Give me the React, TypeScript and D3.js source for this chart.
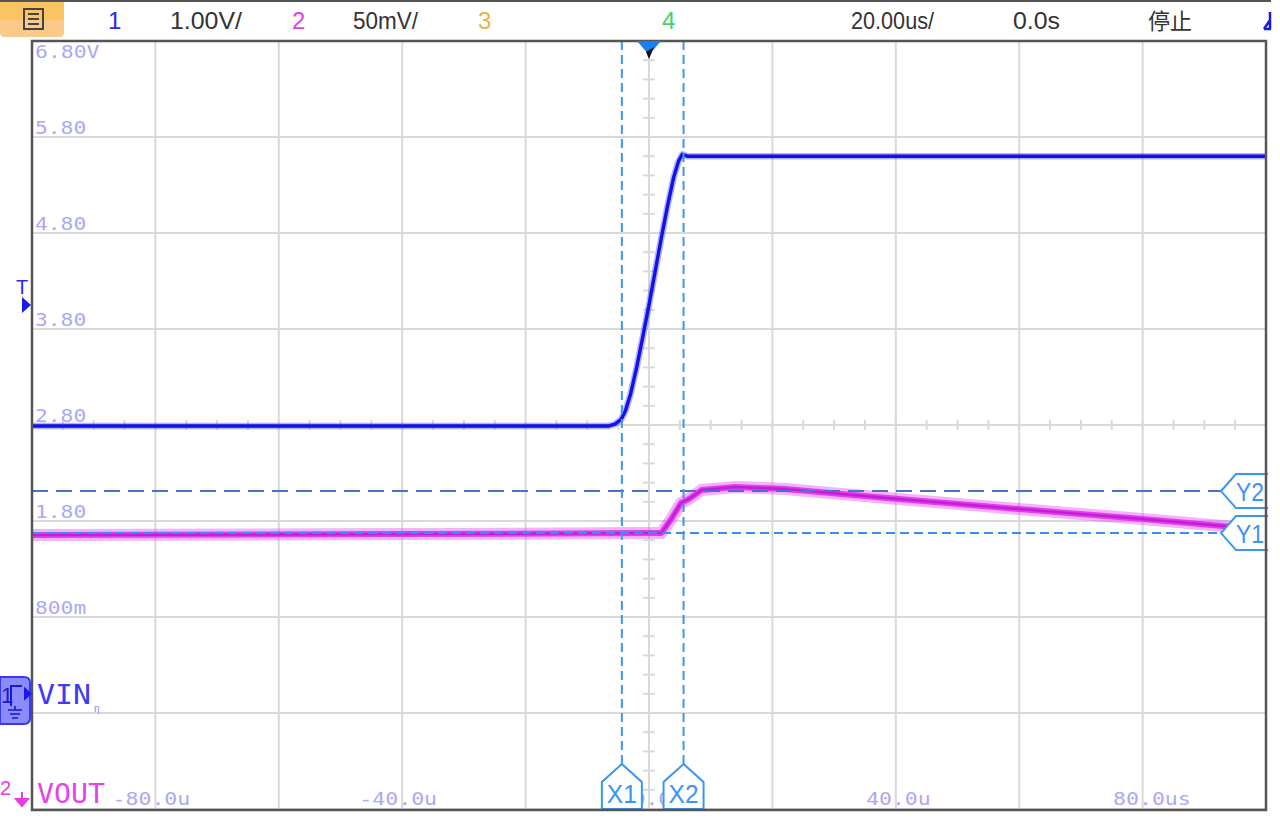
import React from 'react';
import * as d3 from 'd3';

// horizontal: 20us/div, trigger at 0
const timeTicks = [-80, -40, 0, 40, 80];
const timeLabels = ['-80.0u', '-40.0u', '0.0u', '40.0u', '80.0us'];

// ch1 scale labels, 1.00V/div
const voltTicks = [6.8, 5.8, 4.8, 3.8, 2.8, 1.8, 0.8];
const voltLabels = ['6.80V', '5.80', '4.80', '3.80', '2.80', '1.80', '800m'];

// CH1 (VIN) in volts
const ch1Time = [-100, -6.5, -5.5, -4.5, -3.8, -3.0, -2.0, -1.0, 0, 1, 2, 3, 4, 4.8, 5.4, 6.2, 100];
const ch1Volt = [2.79, 2.79, 2.81, 2.86, 2.95, 3.12, 3.4, 3.72, 4.05, 4.4, 4.75, 5.08, 5.38, 5.55, 5.62, 5.6, 5.6];

// CH2 (VOUT) in mV, relative to screen centre, 50mV/div
const ch2Time = [-100, -40, 0, 2.0, 3.5, 5.2, 6.5, 8.5, 14, 22, 40, 60, 80, 93, 100];
const ch2mV = [-57.3, -56.8, -56.3, -56.3, -49.5, -40.6, -38.5, -33.9, -32.3, -33.3, -38.4, -43.8, -49.0, -52.6, -54.7];

// cursors
const cursorX = [{ name: 'X1', t: -4.4 }, { name: 'X2', t: 5.6 }];
const cursorY = [
  { name: 'Y2', mV: -34.4, color: '#4a72c4', dash: '16,8' },
  { name: 'Y1', mV: -56.3, color: '#3a8ef2', dash: '9,5' },
];

const trigLevel = 4.05;

const L = 32, R = 1266, T = 41, B = 809;
const mono = '"DejaVu Sans Mono", monospace';
const sans = '"Liberation Sans Narrow", "Liberation Sans", Arial, sans-serif';

function App() {
  const x = d3.scaleLinear().domain([-100, 100]).range([L, R]);
  const yV = d3.scaleLinear().domain([-1.2, 6.8]).range([B, T]);
  const yMv = d3.scaleLinear().domain([-200, 200]).range([B, T]);
  const cx = x(0), cy = yV(2.8);
  const divX = d3.range(-100, 101, 20);
  const divY = d3.range(-1.2, 6.81, 1);

  const line1 = d3.line<number>().x((_, i) => x(ch1Time[i])).y((v) => yV(v))(ch1Volt) || '';
  const line2 = d3.line<number>().x((_, i) => x(ch2Time[i])).y((v) => yMv(v))(ch2mV) || '';

  const minorX = d3.range(-100, 100.01, 5);
  const minorY = d3.range(-1.2, 6.81, 0.2);

  return (
    <svg width={1280} height={826} style={{ position: 'absolute', left: 0, top: 0, display: 'block', background: '#fff' }}>
      <defs>
        <clipPath id="plot">
          <rect x={L} y={T} width={R - L} height={B - T} />
        </clipPath>
      </defs>
      {/* top bar */}
      <line x1={0} x2={1271} y1={1} y2={1} stroke="#555" strokeWidth={2} />
      <path d="M0,2 H64 V32 Q64,37 59,37 H5 Q0,37 0,32 Z" fill="#fbc98a" />
      <path d="M0,2 H64 V20 H0 Z" fill="#f9c461" />
      <rect x={24} y={9} width={19} height={20} fill="none" stroke="#444" strokeWidth={2} />
      {[14, 19, 24].map((yy) => (
        <line key={yy} x1={28} x2={39} y1={yy} y2={yy} stroke="#444" strokeWidth={2} />
      ))}
      <g fontFamily={sans} fontSize={24}>
        <text x={108} y={29} fill="#2a2ae8">1</text>
        <text x={170} y={29} fill="#333" textLength={72} lengthAdjust="spacingAndGlyphs">1.00V/</text>
        <text x={292} y={29} fill="#e43ce8">2</text>
        <text x={353} y={29} fill="#333" textLength={65} lengthAdjust="spacingAndGlyphs">50mV/</text>
        <text x={478} y={29} fill="#e3b24a">3</text>
        <text x={662} y={29} fill="#3dd46e">4</text>
        <text x={851} y={29} fill="#333" textLength={83} lengthAdjust="spacingAndGlyphs">20.00us/</text>
        <text x={1013} y={29} fill="#333" textLength={47} lengthAdjust="spacingAndGlyphs">0.0s</text>
        <text x={1148} y={29} fill="#333" fontFamily='"Noto Sans CJK SC", sans-serif' fontSize={22}>停止</text>
      </g>
      <path d="M1270,12 V29 M1264,29 H1271 M1264,29 L1270,20" stroke="#1a1ae6" strokeWidth={2.5} fill="none" />

      {/* grid */}
      <g stroke="#d9d9d9" strokeWidth={2}>
        {divX.map((t) => (
          <line key={'gx' + t} x1={x(t)} x2={x(t)} y1={T} y2={B} />
        ))}
        {divY.map((v) => (
          <line key={'gy' + v} x1={L} x2={R} y1={yV(v)} y2={yV(v)} />
        ))}
        {minorX.map((t) => (
          <line key={'mx' + t} x1={x(t)} x2={x(t)} y1={cy - 5} y2={cy + 5} />
        ))}
        {minorY.map((v) => (
          <line key={'my' + v} x1={cx - 6} x2={cx + 6} y1={yV(v)} y2={yV(v)} />
        ))}
      </g>

      {/* scale labels */}
      <g fontFamily={mono} fontSize={17} fill="#a9a9f7">
        {voltTicks.map((v, i) => (
          <text key={'vl' + i} x={35} y={i === 0 ? 58 : yV(v) - 3} textLength={voltLabels[i].length * 13.3 - 2} lengthAdjust="spacingAndGlyphs">
            {voltLabels[i]}
          </text>
        ))}
        {timeTicks.map((t, i) => {
          const lab = timeLabels[i];
          const dot = lab.indexOf('.');
          return (
            <text key={'tl' + i} x={x(t) - dot * 13.3 - 3} y={805} textLength={lab.length * 13.3 - 2} lengthAdjust="spacingAndGlyphs">
              {lab}
            </text>
          );
        })}
      </g>

      {/* traces */}
      <g clipPath="url(#plot)" fill="none" strokeLinejoin="round">
        <path d={line1} stroke="#3a3af5" strokeOpacity={0.4} strokeWidth={6.5} />
        <path d={line1} stroke="#1212e6" strokeWidth={3.4} />
        <path d={line2} stroke="#e23ef0" strokeOpacity={0.4} strokeWidth={12} />
        <path d={line2} stroke="#dc2cea" strokeOpacity={0.85} strokeWidth={6} />
        <path d={line2} stroke="#c81ad8" strokeWidth={2.5} />
      </g>

      {/* cursors */}
      {cursorY.map((c) => (
        <line key={c.name} x1={L} x2={1222} y1={yMv(c.mV)} y2={yMv(c.mV)} stroke={c.color} strokeWidth={2} strokeDasharray={c.dash} />
      ))}
      {cursorX.map((c) => (
        <line key={c.name} x1={x(c.t)} x2={x(c.t)} y1={T} y2={765} stroke="#3a95f5" strokeWidth={2} strokeDasharray="9,5" />
      ))}
      {cursorX.map((c) => {
        const px = x(c.t);
        return (
          <g key={'lb' + c.name}>
            <path d={`M${px},764 L${px + 20},782 V${B} H${px - 20} V782 Z`} fill="#fff" stroke="#3a95f5" strokeWidth={2} />
            <text x={px} y={803} textAnchor="middle" fontFamily={sans} fontSize={25} fill="#3a95f5" textLength={30} lengthAdjust="spacingAndGlyphs">
              {c.name}
            </text>
          </g>
        );
      })}
      {cursorY.map((c) => {
        const py = yMv(c.mV);
        return (
          <g key={'lb' + c.name}>
            <path d={`M${R + 2},${py - 17} H1236 L1221,${py} L1236,${py + 17} H${R + 2}`} fill="#fff" stroke="#3a95f5" strokeWidth={2} />
            <text x={1250} y={py + 10} textAnchor="middle" fontFamily={sans} fontSize={25} fill="#3a95f5" textLength={28} lengthAdjust="spacingAndGlyphs">
              {c.name}
            </text>
          </g>
        );
      })}

      {/* frame */}
      <rect x={L} y={T} width={R - L} height={B - T + 1} fill="none" stroke="#555" strokeWidth={2.5} />

      {/* trigger position marker */}
      <path d={`M${cx - 12},${T} H${cx + 12} L${cx},${T + 14} Z`} fill="#1a7ff0" />
      <path d={`M${cx - 3},${T + 11} L${cx + 5},${T + 6} L${cx},${T + 18} Z`} fill="#111" />

      {/* trigger level */}
      <text x={16} y={294} fontFamily={sans} fontSize={20} fill="#2a2af0">T</text>
      <path d={`M22,${yV(trigLevel) - 8} L31,${yV(trigLevel)} L22,${yV(trigLevel) + 8} Z`} fill="#1a1ae8" />

      {/* channel markers */}
      <path d="M0,677 H24 Q30,677 30,683 V718 Q30,724 24,724 H0 Z" fill="#8b8bfb" stroke="#3838ee" strokeWidth={2} />
      <path d={`M24,${yV(0) - 7} L32,${yV(0)} L24,${yV(0) + 7} Z`} fill="#1a1ae8" />
      <text x={1} y={703} fontFamily={sans} fontSize={22} fill="#1a1ad0">1</text>
      <path d="M11,706 V686 H22" stroke="#1a1ad0" strokeWidth={2} fill="none" />
      <path d="M15,706 V710 M8,710 H22 M10,714 H20 M12,718 H18" stroke="#1a1ad0" strokeWidth={1.6} fill="none" />
      <text x={37} y={704} fontFamily={mono} fontSize={26} fill="#3c3cf2" textLength={54} lengthAdjust="spacingAndGlyphs">VIN</text>
      <text x={94} y={712} fontFamily={sans} fontSize={10} fill="#8a8af2">η</text>

      <text x={0} y={795} fontFamily={sans} fontSize={20} fill="#e63ce6">2</text>
      <path d="M22,792 V805 M16,799 L22,806 L28,799 Z" stroke="#e63ce6" strokeWidth={2} fill="#e63ce6" />
      <text x={37} y={803} fontFamily={mono} fontSize={27} fill="#e344e8" textLength={68} lengthAdjust="spacingAndGlyphs">VOUT</text>
    </svg>
  );
}

export default App;
